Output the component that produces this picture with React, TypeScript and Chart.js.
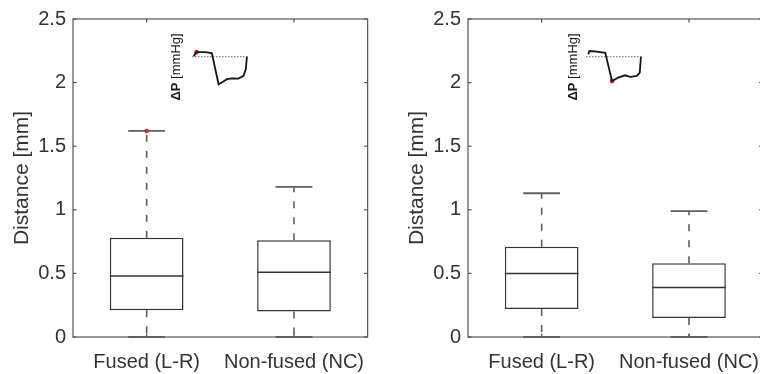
import React, { useEffect, useRef } from 'react';
import { Chart, registerables } from 'chart.js';

Chart.register(...registerables);

const FONT = '"Liberation Sans", Arial, Helvetica, sans-serif';
const TEXT = '#333333';
const AXIS = '#555555';
const BOX = '#353535';
const WHISKER = '#5e5e5e';
const MARK = '#e3202b';

const categories = ['Fused (L-R)', 'Non-fused (NC)'];
const yTicks = [0, 0.5, 1, 1.5, 2, 2.5];

// Distance at the start of the ΔP trace (left panel)
const peakLower = [0, 0];
const peakQ1 = [0.21, 0.2];
const peakMedian = [0.48, 0.51];
const peakQ3 = [0.78, 0.76];
const peakUpper = [1.62, 1.18];
const peakMarked = [1.62, null];

// Distance at the ΔP minimum (right panel)
const troughLower = [0, 0];
const troughQ1 = [0.22, 0.15];
const troughMedian = [0.5, 0.39];
const troughQ3 = [0.71, 0.58];
const troughUpper = [1.13, 0.99];
const troughMarked = [null, null];

// ΔP traces for the insets (time as fraction of the cycle, pressure in mmHg)
const peakTraceTime = [0.03, 0.08, 0.23, 0.35, 0.47, 0.54, 0.62, 0.71, 0.82, 0.91, 0.95, 0.97];
const peakTracePressure = [0.2, 1.5, 1.5, 1.2, -9.2, -8.4, -7.5, -7.2, -7.3, -6.4, -4.2, 0];
const peakTraceMark = 1;

const troughTraceTime = [0.04, 0.06, 0.19, 0.34, 0.46, 0.57, 0.69, 0.78, 0.9, 0.95, 0.97];
const troughTracePressure = [0.8, 1.9, 1.7, 1.3, -8.1, -7.0, -6.2, -6.7, -6.4, -5.3, 0];
const troughTraceMark = 4;

type BoxStats = {
  lower: number[];
  q1: number[];
  median: number[];
  q3: number[];
  upper: number[];
  marked: (number | null)[];
};

const peakStats: BoxStats = {
  lower: peakLower, q1: peakQ1, median: peakMedian, q3: peakQ3, upper: peakUpper, marked: peakMarked,
};
const troughStats: BoxStats = {
  lower: troughLower, q1: troughQ1, median: troughMedian, q3: troughQ3, upper: troughUpper, marked: troughMarked,
};

const PANEL_W = 380;
const PANEL_H = 374;
const TICK_LEN = 3.5;

function BoxPanel({ stats, left }: { stats: BoxStats; left: number }) {
  const ref = useRef<HTMLCanvasElement>(null);

  useEffect(() => {
    const canvas = ref.current;
    if (!canvas) return;

    const line = (ctx: CanvasRenderingContext2D, x1: number, y1: number, x2: number, y2: number) => {
      ctx.beginPath();
      ctx.moveTo(x1, y1);
      ctx.lineTo(x2, y2);
      ctx.stroke();
    };

    const boxPlotPlugin = {
      id: 'boxPlotParts',
      beforeDatasetsDraw(chart: any) {
        const { ctx, chartArea: a, scales } = chart;
        const x = scales.x;
        const y = scales.y;
        const step = x.getPixelForValue(1) - x.getPixelForValue(0);
        ctx.save();

        // axes frame with inward tick marks
        ctx.strokeStyle = AXIS;
        ctx.lineWidth = 1.2;
        ctx.strokeRect(a.left, a.top, a.right - a.left, a.bottom - a.top);
        yTicks.forEach((v) => {
          const py = y.getPixelForValue(v);
          line(ctx, a.left, py, a.left + TICK_LEN, py);
          line(ctx, a.right, py, a.right - TICK_LEN, py);
        });
        categories.forEach((_, i) => {
          const px = x.getPixelForValue(i);
          line(ctx, px, a.top, px, a.top + TICK_LEN);
          line(ctx, px, a.bottom, px, a.bottom - TICK_LEN);
        });

        // whiskers and caps
        categories.forEach((_, i) => {
          const px = x.getPixelForValue(i);
          ctx.strokeStyle = WHISKER;
          ctx.lineWidth = 1.6;
          ctx.setLineDash([7, 9]);
          line(ctx, px, y.getPixelForValue(stats.q3[i]), px, y.getPixelForValue(stats.upper[i]));
          line(ctx, px, y.getPixelForValue(stats.q1[i]), px, y.getPixelForValue(stats.lower[i]));
          ctx.setLineDash([]);
          ctx.lineWidth = 1.8;
          const half = step * 0.125;
          const pu = y.getPixelForValue(stats.upper[i]);
          const pl = y.getPixelForValue(stats.lower[i]);
          line(ctx, px - half, pu, px + half, pu);
          line(ctx, px - half, pl, px + half, pl);
        });
        ctx.restore();
      },
      afterDatasetsDraw(chart: any) {
        const { ctx, scales } = chart;
        const x = scales.x;
        const y = scales.y;
        const step = x.getPixelForValue(1) - x.getPixelForValue(0);
        ctx.save();
        ctx.strokeStyle = BOX;
        ctx.lineWidth = 1.5;
        categories.forEach((_, i) => {
          const px = x.getPixelForValue(i);
          const pm = y.getPixelForValue(stats.median[i]);
          line(ctx, px - step * 0.25, pm, px + step * 0.25, pm);
        });
        // highlighted sample sits on top of the whisker cap
        const meta = chart.getDatasetMeta(1);
        meta.data.forEach((pt: any, i: number) => {
          if (stats.marked[i] == null) return;
          ctx.fillStyle = MARK;
          ctx.beginPath();
          ctx.arc(pt.x, pt.y, 2.2, 0, Math.PI * 2);
          ctx.fill();
        });
        ctx.restore();
      },
    };

    const chart = new Chart(canvas, {
      type: 'bar',
      data: {
        labels: categories,
        datasets: [
          {
            type: 'bar',
            data: stats.q1.map((q, i) => [q, stats.q3[i]]) as any,
            backgroundColor: '#ffffff',
            borderColor: BOX,
            borderWidth: 1.5,
            borderSkipped: false,
            barPercentage: 0.5,
            categoryPercentage: 1,
            order: 2,
          },
          {
            type: 'line',
            data: stats.marked as any,
            showLine: false,
            pointRadius: 0,
            pointBackgroundColor: MARK,
            order: 1,
          } as any,
        ],
      },
      options: {
        responsive: false,
        animation: false,
        events: [],
        layout: { padding: { top: 13, right: 12, left: 0, bottom: 0 } },
        plugins: {
          legend: { display: false },
          tooltip: { enabled: false },
        },
        scales: {
          x: {
            offset: true,
            grid: { display: false, drawTicks: false },
            border: { display: false },
            ticks: {
              color: TEXT,
              font: { family: FONT, size: 20 },
              padding: 13,
              maxRotation: 0,
              autoSkip: false,
            },
            afterFit: (s: any) => {
              s.height = 37;
            },
          },
          y: {
            min: 0,
            max: 2.5,
            grid: { display: false, drawTicks: false },
            border: { display: false },
            ticks: {
              stepSize: 0.5,
              color: TEXT,
              font: { family: FONT, size: 20 },
              padding: 7,
              callback: (v: any) => String(Number(v)),
            },
            title: {
              display: true,
              text: 'Distance [mm]',
              color: TEXT,
              font: { family: FONT, size: 21 },
              padding: { top: 10, bottom: 0 },
            },
            afterFit: (s: any) => {
              s.width = 73;
            },
          },
        },
      },
      plugins: [boxPlotPlugin],
    });

    return () => chart.destroy();
  }, [stats]);

  return (
    <canvas
      ref={ref}
      width={PANEL_W}
      height={PANEL_H}
      style={{ position: 'absolute', left, top: 0, width: PANEL_W, height: PANEL_H }}
    />
  );
}

type InsetProps = {
  time: number[];
  pressure: number[];
  markIndex: number;
  left: number;
  top: number;
  labelGap: number;
};

function TraceInset({ time, pressure, markIndex, left, top, labelGap }: InsetProps) {
  const ref = useRef<HTMLCanvasElement>(null);

  useEffect(() => {
    const canvas = ref.current;
    if (!canvas) return;

    const labelPlugin = {
      id: 'dpLabel',
      afterDraw(chart: any) {
        const { ctx, chartArea: a } = chart;
        const bold = `bold 13px ${FONT}`;
        const normal = `13px ${FONT}`;
        const head = 'ΔP';
        const tail = ' [mmHg]';
        ctx.save();
        ctx.font = bold;
        const w1 = ctx.measureText(head).width;
        ctx.font = normal;
        const w2 = ctx.measureText(tail).width;
        ctx.translate(a.left - labelGap, (a.top + a.bottom) / 2 - 1);
        ctx.rotate(-Math.PI / 2);
        ctx.textBaseline = 'middle';
        ctx.textAlign = 'left';
        ctx.fillStyle = '#1a1a1a';
        const start = -(w1 + w2) / 2;
        ctx.font = bold;
        ctx.fillText(head, start, 0);
        ctx.font = normal;
        ctx.fillText(tail, start + w1, 0);
        ctx.restore();
      },
    };

    const chart = new Chart(canvas, {
      type: 'line',
      data: {
        datasets: [
          {
            data: [
              { x: 0, y: 0 },
              { x: 1, y: 0 },
            ],
            borderColor: '#666666',
            borderWidth: 1,
            borderDash: [1.5, 1.5],
            pointRadius: 0,
          },
          {
            data: time.map((t, i) => ({ x: t, y: pressure[i] })),
            borderColor: '#151515',
            borderWidth: 1.8,
            pointRadius: 0,
            tension: 0,
          },
          {
            data: [{ x: time[markIndex], y: pressure[markIndex] }],
            showLine: false,
            pointRadius: 2.4,
            pointBackgroundColor: MARK,
            pointBorderWidth: 0,
          },
        ],
      },
      options: {
        responsive: false,
        animation: false,
        events: [],
        layout: { padding: { left: 31, right: 12.4, top: 16.2, bottom: 15.3 } },
        plugins: { legend: { display: false }, tooltip: { enabled: false } },
        scales: {
          x: { type: 'linear', min: 0, max: 1, display: false },
          y: { type: 'linear', min: -11, max: 3.5, display: false },
        },
      },
      plugins: [labelPlugin],
    });

    return () => chart.destroy();
  }, [time, pressure, markIndex, labelGap]);

  return (
    <canvas
      ref={ref}
      width={100}
      height={75}
      style={{ position: 'absolute', left, top, width: 100, height: 75 }}
    />
  );
}

export default function App() {
  return (
    <div
      style={{
        position: 'absolute',
        left: 0,
        top: 0,
        width: 760,
        height: 374,
        overflow: 'hidden',
        background: '#ffffff',
      }}
    >
      <BoxPanel stats={peakStats} left={0} />
      <BoxPanel stats={troughStats} left={395} />
      <TraceInset
        time={peakTraceTime}
        pressure={peakTracePressure}
        markIndex={peakTraceMark}
        left={161}
        top={30}
        labelGap={15.5}
      />
      <TraceInset
        time={troughTraceTime}
        pressure={troughTracePressure}
        markIndex={troughTraceMark}
        left={555}
        top={30}
        labelGap={13}
      />
    </div>
  );
}
